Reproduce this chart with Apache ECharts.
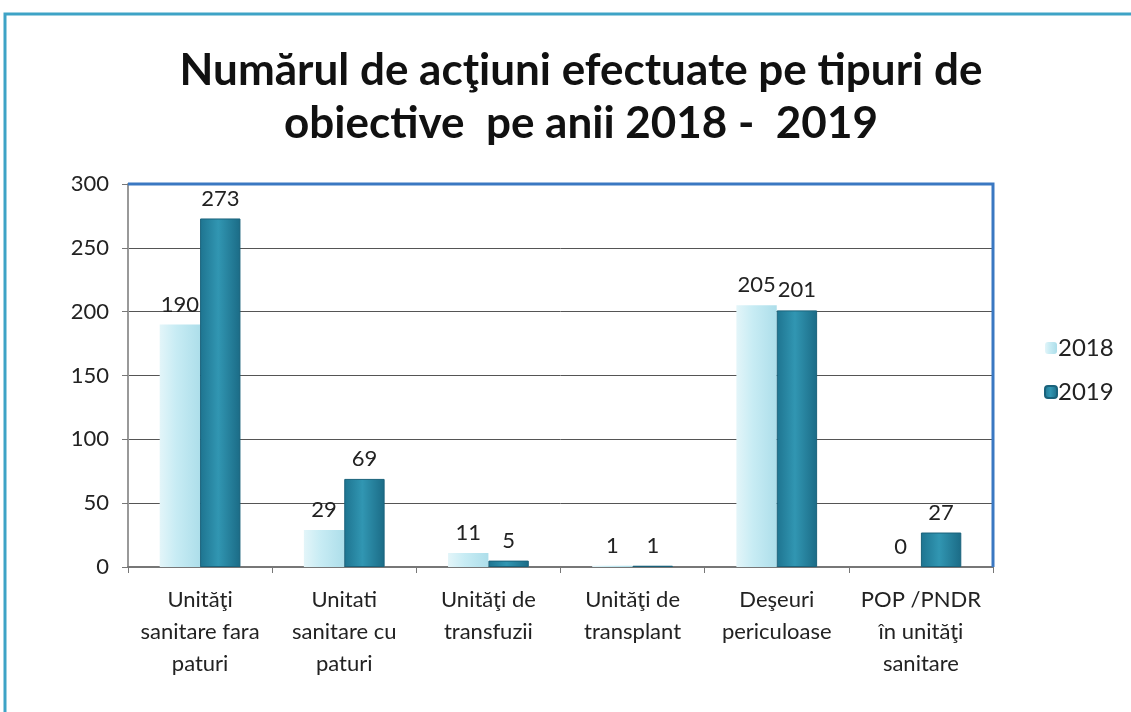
<!DOCTYPE html>
<html>
<head>
<meta charset="utf-8">
<script src="https://cdn.jsdelivr.net/npm/echarts@6/dist/echarts.min.js"></script>
<style>
  html, body { margin: 0; padding: 0; background: #fff; }
  #chart-container { width: 1131px; height: 712px; }
</style>
</head>
<body>
<div id="chart-container"></div>
<script>
let categories = [
  'Unităţi\nsanitare fara\npaturi',
  'Unitati\nsanitare cu\npaturi',
  'Unităţi de\ntransfuzii',
  'Unităţi de\ntransplant',
  'Deşeuri\npericuloase',
  'POP /PNDR\nîn unităţi\nsanitare'
];
let values2018 = [190, 29, 11, 1, 205, 0];
let values2019 = [273, 69, 5, 1, 201, 27];
let yTicks = { min: 0, max: 300, interval: 50 };

let dom = document.getElementById('chart-container');
let myChart = echarts.init(dom, null, { renderer: 'canvas' });

let font = 'Lato, "Open Sans", sans-serif';

let light = new echarts.graphic.LinearGradient(0, 0, 1, 0, [
  { offset: 0, color: '#e3f5f9' },
  { offset: 0.4, color: '#c8ecf4' },
  { offset: 1, color: '#addeea' }
]);
let dark = new echarts.graphic.LinearGradient(0, 0, 1, 0, [
  { offset: 0, color: '#1e7490' },
  { offset: 0.45, color: '#3196b2' },
  { offset: 1, color: '#1b6b86' }
]);

let labelStyle = {
  show: true,
  position: 'top',
  distance: 9,
  color: '#222',
  fontSize: 22,
  fontFamily: font
};

let option = {
  backgroundColor: '#fff',
  animation: false,
  title: {
    text: 'Numărul de acţiuni efectuate pe tipuri de\nobiective  pe anii 2018 -  2019',
    left: 576,
    textAlign: 'center',
    top: 39,
    textStyle: {
      fontFamily: font,
      fontWeight: 'bold',
      fontSize: 44,
      lineHeight: 53,
      color: '#111'
    }
  },
  legend: {
    orient: 'vertical',
    left: 1039,
    top: 331,
    itemWidth: 12,
    itemHeight: 12,
    itemGap: 20,
    textStyle: { fontFamily: font, fontSize: 24, color: '#222', padding: [0, 0, 0, -4] },
    data: ['2018', '2019']
  },
  grid: {
    left: 128,
    right: 138,
    top: 184,
    bottom: 145,
    show: true,
    borderWidth: 0
  },
  xAxis: {
    type: 'category',
    data: categories,
    axisLine: { lineStyle: { color: '#777', width: 2 } },
    axisTick: { show: true, length: 6, lineStyle: { color: '#777' } },
    axisLabel: {
      fontFamily: font,
      fontSize: 22,
      color: '#222',
      lineHeight: 32,
      margin: 17,
      interval: 0
    }
  },
  yAxis: {
    type: 'value',
    min: yTicks.min,
    max: yTicks.max,
    interval: yTicks.interval,
    axisLine: { show: true, lineStyle: { color: '#999', width: 2 } },
    axisTick: { show: true, length: 6, lineStyle: { color: '#777' } },
    axisLabel: { fontFamily: font, fontSize: 22, color: '#222', margin: 19 },
    splitLine: { lineStyle: { color: '#555', width: 1 } }
  },
  graphic: [
    {
      type: 'rect',
      shape: { x: 5, y: 14, width: 1140, height: 720 },
      style: { fill: 'none', stroke: '#3ea3c6', lineWidth: 3 },
      silent: true
    },
    {
      type: 'polyline',
      shape: { points: [[128, 184], [993, 184], [993, 567]] },
      style: { fill: 'none', stroke: '#3a78c2', lineWidth: 3 },
      silent: true,
      z: 10
    }
  ],
  series: [
    {
      name: '2018',
      type: 'bar',
      data: values2018,
      barGap: '0%',
      barCategoryGap: '44%',
      itemStyle: { color: light },
      label: labelStyle
    },
    {
      name: '2019',
      type: 'bar',
      data: values2019,
      itemStyle: { color: dark, borderColor: '#1a627b', borderWidth: 1 },
      label: labelStyle
    }
  ]
};

myChart.setOption(option);
window.addEventListener('resize', myChart.resize);
</script>
</body>
</html>
